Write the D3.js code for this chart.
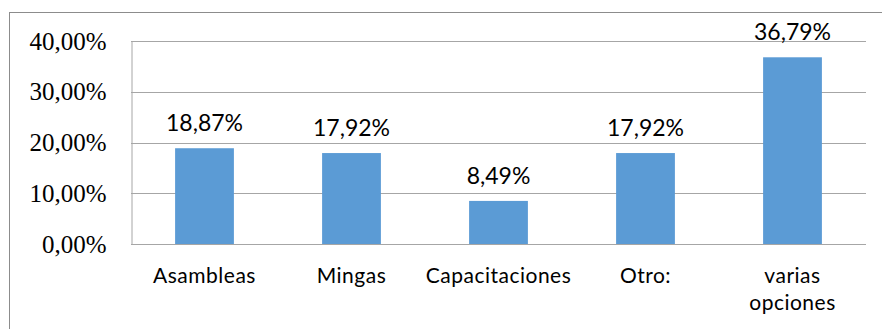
<!DOCTYPE html>
<html>
<head>
<meta charset="utf-8">
<script src="https://cdn.jsdelivr.net/npm/d3@7"></script>
<style>
  html, body { margin: 0; padding: 0; background: #fff; }
  svg { display: block; }
</style>
</head>
<body>
<svg id="chart" width="882" height="329"></svg>
<script>
// Categories (multi-line labels split into lines) and their shares in percent
const categories = ["Asambleas", "Mingas", "Capacitaciones", "Otro:", "varias opciones"];
const categoryLines = [["Asambleas"], ["Mingas"], ["Capacitaciones"], ["Otro:"], ["varias", "opciones"]];
const values = [18.87, 17.92, 8.49, 17.92, 36.79];
const yTicks = [0, 10, 20, 30, 40];

const svg = d3.select("#chart");
const W = 882, H = 329;
const margin = { left: 131, right: 16, top: 41, bottom: 85 };

// Outer chart frame (only top and left edges fall inside the window)
svg.append("rect")
  .attr("x", 9.5).attr("y", 12.5)
  .attr("width", W + 20).attr("height", H + 20)
  .attr("fill", "none").attr("stroke", "#8c8c8c").attr("stroke-width", 1);

const x = d3.scaleBand()
  .domain(categories)
  .range([margin.left, W - margin.right])
  .paddingInner(0.6).paddingOuter(0.3);

const y = d3.scaleLinear()
  .domain([0, 40])
  .range([H - margin.bottom, margin.top]);

// Horizontal gridlines
svg.append("g")
  .selectAll("line")
  .data(yTicks)
  .join("line")
  .attr("x1", margin.left).attr("x2", W - margin.right)
  .attr("y1", d => Math.round(y(d)) + 0.5).attr("y2", d => Math.round(y(d)) + 0.5)
  .attr("stroke", "#a6a6a6").attr("stroke-width", 1);

// Y axis with percent labels using comma decimals
const fmt = d => d3.format(".2f")(d).replace(".", ",") + "%";
const yAxis = svg.append("g")
  .attr("transform", `translate(${margin.left + 0.5},0)`)
  .call(d3.axisLeft(y).tickValues(yTicks).tickSize(0).tickPadding(25).tickFormat(fmt));
yAxis.attr("font-family", "Liberation Serif").attr("font-size", 25);
yAxis.select(".domain").attr("stroke", "#a6a6a6");
yAxis.selectAll("text")
  .style("font-family", "\"Liberation Serif\"")
  .style("font-size", "25px")
  .attr("fill", "#000");

// Bars
svg.append("g")
  .selectAll("rect")
  .data(values)
  .join("rect")
  .attr("x", (d, i) => x(categories[i]))
  .attr("y", d => y(d))
  .attr("width", x.bandwidth())
  .attr("height", d => y(0) - y(d))
  .attr("fill", "#5b9bd5");

// Value labels above bars
svg.append("g")
  .selectAll("text")
  .data(values)
  .join("text")
  .attr("x", (d, i) => x(categories[i]) + x.bandwidth() / 2)
  .attr("y", d => y(d) - 17)
  .attr("text-anchor", "middle")
  .style("font-family", "Lato, Carlito, sans-serif")
  .style("font-size", "23px")
  .attr("fill", "#000")
  .text(d => d3.format(".2f")(d).replace(".", ",") + "%");

// Category labels below the axis
const xl = svg.append("g")
  .selectAll("text")
  .data(categoryLines)
  .join("text")
  .attr("x", (d, i) => x(categories[i]) + x.bandwidth() / 2)
  .attr("y", 283)
  .attr("text-anchor", "middle")
  .style("font-family", "Lato, Carlito, sans-serif")
  .style("font-size", "21px")
  .style("letter-spacing", "0.5px")
  .attr("fill", "#000");
xl.selectAll("tspan")
  .data(d => d)
  .join("tspan")
  .attr("x", function () { return this.parentNode.getAttribute("x"); })
  .attr("dy", (d, i) => i === 0 ? 0 : 27)
  .text(d => d);
</script>
</body>
</html>
